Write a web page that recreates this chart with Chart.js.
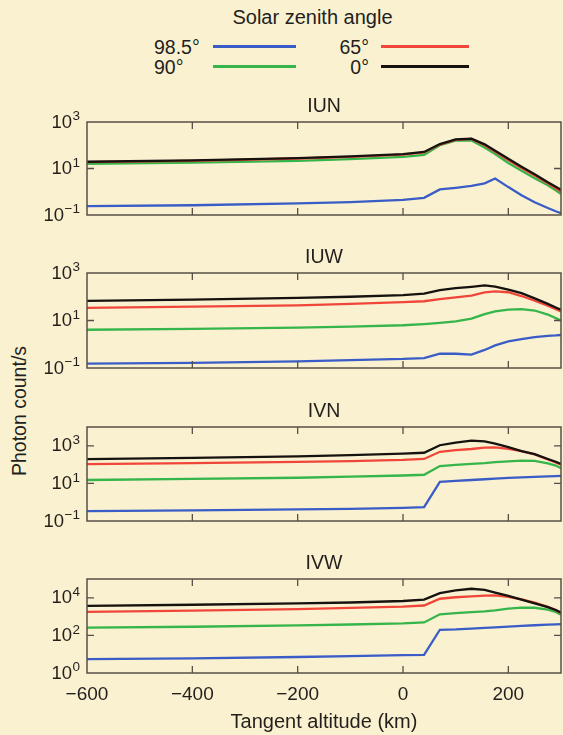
<!DOCTYPE html>
<html>
<head>
<meta charset="utf-8">
<script src="https://cdn.jsdelivr.net/npm/chart.js@4.4.1/dist/chart.umd.min.js"></script>
<style>
  body { margin: 0; background: #faf1d1; }
  #page { position: relative; width: 563px; height: 735px; background: #faf1d1; overflow: hidden;
          font-family: "Liberation Sans", Arial, Helvetica, sans-serif; color: #231f1c; }
  canvas { position: absolute; left: 0; }
  .txt { position: absolute; font-size: 19.5px; line-height: 20px; white-space: nowrap; }
  .swatch { position: absolute; height: 3px; }
</style>
</head>
<body>
<div id="page">
  <div class="txt" style="left:0;width:625px;text-align:center;top:7px;font-size:20px">Solar zenith angle</div>
  <div id="legend"></div>
  <div class="txt" style="left:-81px;width:200px;top:401px;text-align:center;transform:rotate(-90deg)">Photon count/s</div>
  <canvas id="iun" width="563" height="129" style="top:92px"></canvas>
  <canvas id="iuw" width="563" height="131" style="top:243px"></canvas>
  <canvas id="ivn" width="563" height="130" style="top:397px"></canvas>
  <canvas id="ivw" width="563" height="186" style="top:549px"></canvas>
</div>
<script>
// tangent altitude (km) shared by every curve
const altitude = [-600, -400, -200, -100, 0, 40, 70, 100, 130, 155, 175, 200, 225, 250, 275, 290, 300];
const altTicks = [-600, -400, -200, 0, 200];
const zenithLabels = ["98.5°", "90°", "65°", "0°"];

// values are log10(photon count/s)
const iunBlue  = [-0.62, -0.58, -0.5, -0.45, -0.35, -0.26, 0.1, 0.17, 0.25, 0.36, 0.57, 0.2, -0.15, -0.45, -0.7, -0.84, -0.92];
const iunGreen = [1.2, 1.25, 1.33, 1.4, 1.5, 1.59, 2.0, 2.2, 2.2, 1.9, 1.62, 1.24, 0.9, 0.58, 0.28, 0.06, -0.1];
const iunRed   = [1.27, 1.33, 1.43, 1.5, 1.6, 1.69, 2.03, 2.23, 2.27, 2.0, 1.72, 1.36, 1.02, 0.7, 0.36, 0.15, 0.0];
const iunBlack = [1.29, 1.35, 1.45, 1.52, 1.62, 1.71, 2.05, 2.25, 2.28, 2.04, 1.76, 1.42, 1.08, 0.75, 0.41, 0.22, 0.08];

const iuwBlue  = [-0.82, -0.78, -0.72, -0.67, -0.62, -0.58, -0.4, -0.4, -0.44, -0.24, -0.05, 0.12, 0.22, 0.3, 0.35, 0.37, 0.39];
const iuwGreen = [0.61, 0.65, 0.7, 0.74, 0.8, 0.85, 0.9, 0.96, 1.08, 1.27, 1.38, 1.46, 1.48, 1.42, 1.25, 1.1, 1.0];
const iuwRed   = [1.53, 1.58, 1.64, 1.7, 1.77, 1.81, 1.9, 1.97, 2.05, 2.18, 2.23, 2.19, 2.03, 1.83, 1.62, 1.48, 1.38];
const iuwBlack = [1.83, 1.88, 1.95, 2.0, 2.07, 2.13, 2.28, 2.36, 2.42, 2.48, 2.43, 2.3, 2.15, 1.93, 1.7, 1.55, 1.45];

const ivnBlue  = [-0.48, -0.44, -0.38, -0.35, -0.3, -0.26, 1.08, 1.13, 1.18, 1.22, 1.25, 1.29, 1.32, 1.35, 1.37, 1.39, 1.4];
const ivnGreen = [1.18, 1.24, 1.3, 1.36, 1.42, 1.46, 1.92, 1.98, 2.04, 2.08, 2.13, 2.17, 2.21, 2.2, 2.07, 1.95, 1.8];
const ivnRed   = [2.02, 2.08, 2.14, 2.19, 2.25, 2.3, 2.68, 2.77, 2.83, 2.9, 2.92, 2.84, 2.72, 2.54, 2.28, 2.12, 1.99];
const ivnBlack = [2.29, 2.36, 2.44, 2.5, 2.58, 2.63, 3.03, 3.17, 3.27, 3.23, 3.12, 2.93, 2.72, 2.56, 2.3, 2.15, 2.03];

const ivwBlue  = [0.74, 0.78, 0.85, 0.9, 0.95, 0.96, 2.3, 2.32, 2.36, 2.4, 2.43, 2.47, 2.51, 2.54, 2.57, 2.59, 2.6];
const ivwGreen = [2.41, 2.46, 2.53, 2.58, 2.64, 2.69, 3.12, 3.19, 3.24, 3.28, 3.33, 3.42, 3.48, 3.47, 3.37, 3.25, 3.1];
const ivwRed   = [3.25, 3.32, 3.4, 3.46, 3.53, 3.59, 3.95, 4.03, 4.08, 4.12, 4.13, 4.05, 3.92, 3.74, 3.52, 3.35, 3.18];
const ivwBlack = [3.57, 3.63, 3.7, 3.75, 3.83, 3.9, 4.25, 4.4, 4.48, 4.42, 4.28, 4.1, 3.9, 3.7, 3.5, 3.35, 3.22];

// axis decades (exponents): range and labelled ticks per panel
const iunRange = [-1, 3], iunTicks = [-1, 1, 3];
const iuwRange = [-1, 3], iuwTicks = [-1, 1, 3];
const ivnRange = [-1, 4], ivnTicks = [-1, 1, 3];
const ivwRange = [0, 5],  ivwTicks = [0, 2, 4];

const lineColors = ["#3a5cc6", "#35b54a", "#f0463a", "#15120f"];
const FRAME = "#574f45";
const INK = "#231f1c";
const FONT = '"Liberation Sans", Arial, Helvetica, sans-serif';

// legend: two columns, label then line
const legendEl = document.getElementById("legend");
const legendSpots = [
    { text: "left:154px;top:37px", line: "left:213px;width:83px;top:44.5px" },
    { text: "left:154px;top:57px", line: "left:213px;width:83px;top:64.5px" },
    { text: "left:270px;width:99px;text-align:right;top:37px", line: "left:381px;width:88px;top:44.5px" },
    { text: "left:270px;width:99px;text-align:right;top:57px", line: "left:381px;width:88px;top:64.5px" },
];
zenithLabels.forEach((lab, i) => {
    legendEl.innerHTML +=
        '<div class="txt" style="' + legendSpots[i].text + '">' + lab + "</div>" +
        '<div class="swatch" style="' + legendSpots[i].line + ";background:" + lineColors[i] + '"></div>';
});

function supText(e) {
    return e < 0 ? "\u2212" + (-e) : String(e);
}

// box, inward ticks and 10^n labels
function framePlugin(range, ticks) {
    return {
        id: "frame",
        afterDatasetsDraw(chart) {
            const { ctx, chartArea: a } = chart;
            const xs = chart.scales.x;
            const ys = chart.scales.y;
            ctx.save();
            ctx.strokeStyle = FRAME;
            ctx.lineWidth = 1.5;
            ctx.strokeRect(a.left, a.top, a.right - a.left, a.bottom - a.top);
            ctx.lineWidth = 1.3;
            ctx.beginPath();
            altTicks.forEach((v) => {
                if (v <= xs.min || v >= xs.max) return;
                const x = xs.getPixelForValue(v);
                ctx.moveTo(x, a.top);
                ctx.lineTo(x, a.top + 7);
                ctx.moveTo(x, a.bottom);
                ctx.lineTo(x, a.bottom - 7);
            });
            ticks.forEach((e) => {
                if (e <= range[0] || e >= range[1]) return;
                const y = ys.getPixelForValue(Math.pow(10, e));
                ctx.moveTo(a.left, y);
                ctx.lineTo(a.left + 7, y);
                ctx.moveTo(a.right, y);
                ctx.lineTo(a.right - 7, y);
            });
            ctx.stroke();
            ctx.fillStyle = INK;
            ctx.textAlign = "right";
            ctx.textBaseline = "middle";
            ticks.forEach((e) => {
                const y = ys.getPixelForValue(Math.pow(10, e));
                const s = supText(e);
                ctx.font = "13.5px " + FONT;
                const w = ctx.measureText(s).width;
                ctx.fillText(s, a.left - 7, y - 5.5);
                ctx.font = "18.5px " + FONT;
                ctx.fillText("10", a.left - 7 - w - 0.5, y + 0.5);
            });
            ctx.restore();
        },
    };
}

function makePanel(id, title, series, range, ticks, isBottom) {
    const datasets = series.map((s, i) => ({
        label: zenithLabels[i],
        data: s.map((e, j) => ({ x: altitude[j], y: Math.pow(10, e) })),
        borderColor: lineColors[i],
        backgroundColor: lineColors[i],
        borderWidth: 2.3,
        pointRadius: 0,
        tension: 0,
        fill: false,
        order: 3 - i,
    }));
    const xAxis = {
        type: "linear",
        min: -600,
        max: 300,
        display: false,
    };
    if (isBottom) {
        Object.assign(xAxis, {
            display: true,
            grid: { display: false },
            border: { display: false },
            afterBuildTicks: (scale) => {
                scale.ticks = altTicks.map((v) => ({ value: v }));
            },
            afterFit: (scale) => {
                scale.height = 62;
            },
            ticks: {
                color: INK,
                font: { size: 19, family: FONT },
                padding: 2,
                maxRotation: 0,
                autoSkip: false,
                callback: (v) => (v < 0 ? "\u2212" + Math.abs(v) : String(v)),
            },
            title: {
                display: true,
                text: "Tangent altitude (km)",
                color: INK,
                font: { size: 20, family: FONT },
                padding: { top: 0, bottom: 1 },
            },
        });
    }
    return new Chart(document.getElementById(id), {
        type: "line",
        data: { datasets },
        options: {
            responsive: false,
            animation: false,
            layout: { padding: { left: 87, right: 2, top: 0, bottom: isBottom ? 0 : 6 } },
            scales: {
                x: xAxis,
                y: {
                    type: "logarithmic",
                    min: Math.pow(10, range[0]),
                    max: Math.pow(10, range[1]),
                    display: false,
                },
            },
            plugins: {
                legend: { display: false },
                tooltip: { enabled: false },
                title: {
                    display: true,
                    text: title,
                    color: INK,
                    fullSize: false,
                    font: { size: 19.5, family: FONT, weight: "normal", lineHeight: 1.2 },
                    padding: { top: 2.6, bottom: 4 },
                },
            },
        },
        plugins: [framePlugin(range, ticks)],
    });
}

makePanel("iun", "IUN", [iunBlue, iunGreen, iunRed, iunBlack], iunRange, iunTicks, false);
makePanel("iuw", "IUW", [iuwBlue, iuwGreen, iuwRed, iuwBlack], iuwRange, iuwTicks, false);
makePanel("ivn", "IVN", [ivnBlue, ivnGreen, ivnRed, ivnBlack], ivnRange, ivnTicks, false);
makePanel("ivw", "IVW", [ivwBlue, ivwGreen, ivwRed, ivwBlack], ivwRange, ivwTicks, true);
</script>
</body>
</html>
